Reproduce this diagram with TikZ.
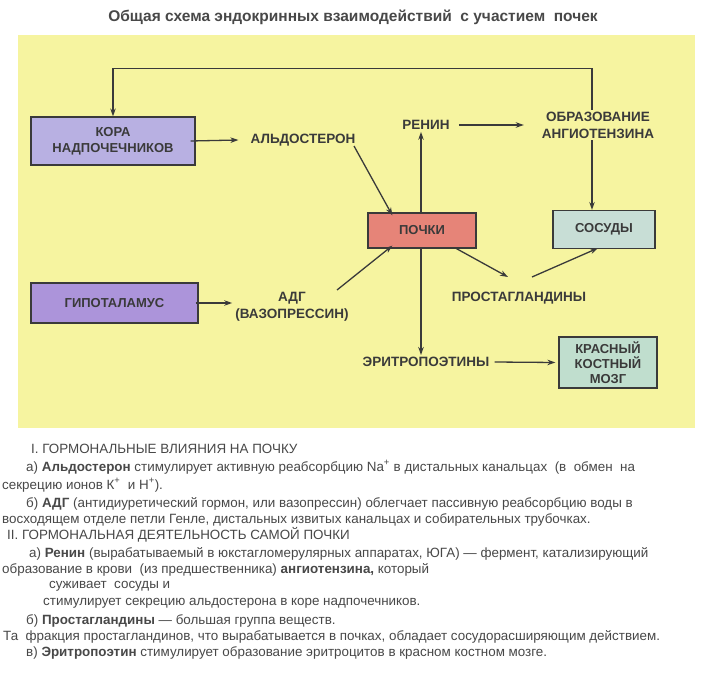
\documentclass[tikz,border=0pt]{standalone}
\usepackage{fontspec}
\setmainfont{Liberation Sans}
\usetikzlibrary{arrows.meta}
\definecolor{bgyellow}{RGB}{246,244,160}
\definecolor{kora}{RGB}{184,176,226}
\definecolor{gipo}{RGB}{172,148,218}
\definecolor{pochki}{RGB}{230,132,120}
\definecolor{sosudy}{RGB}{200,222,214}
\definecolor{mozg}{RGB}{192,222,206}
\definecolor{ink}{RGB}{58,58,58}
\definecolor{bodyink}{RGB}{72,72,72}
\tikzset{
  box/.style={draw=ink, line width=1.2pt, text=ink, font=\fontsize{13}{16}\selectfont\bfseries, align=center, inner sep=0pt},
  lbl/.style={text=ink, font=\fontsize{13.5}{17}\selectfont\bfseries, align=center, inner sep=2pt},
  arr/.style={draw=ink, line width=1.3pt, -{Stealth[length=8pt,width=5.5pt]}},
  txt/.style={anchor=base west, inner sep=0pt, text=bodyink, font=\fontsize{13.4}{16}\selectfont},
}
\begin{document}
\begin{tikzpicture}[x=1pt,y=-1pt]
\useasboundingbox (0,0) rectangle (705,674);
\fill[white] (0,0) rectangle (705,674);
\fill[bgyellow] (18,35) rectangle (695,428);
\node[text=bodyink, font=\fontsize{15.5}{18}\selectfont\bfseries] (title) at (353,17) {Общая схема эндокринных взаимодействий\ \ с участием\ \ почек};
% boxes
\node[box, fill=kora, minimum width=164pt, minimum height=48pt] (kora) at (113,141) {КОРА\\НАДПОЧЕЧНИКОВ};
\node[box, fill=gipo, minimum width=167pt, minimum height=40pt] (gipo) at (114.5,303) {ГИПОТАЛАМУС};
\node[box, fill=pochki, minimum width=108pt, minimum height=35pt] (pochki) at (422,230.5) {ПОЧКИ};
\node[box, fill=sosudy, minimum width=102pt, minimum height=38pt] (sosudy) at (604,229.5) {СОСУДЫ};
\node[box, fill=mozg, minimum width=98pt, minimum height=51pt, font=\fontsize{13}{15}\selectfont\bfseries] (mozg) at (608,362.5) {КРАСНЫЙ\\КОСТНЫЙ\\МОЗГ};
% labels
\node[lbl] (ald) at (303,140) {АЛЬДОСТЕРОН};
\node[lbl] (renin) at (426,125) {РЕНИН};
\node[lbl] (obr) at (598,125) {ОБРАЗОВАНИЕ\\АНГИОТЕНЗИНА};
\node[lbl] (adg) at (292,307) {АДГ\\(ВАЗОПРЕССИН)};
\node[lbl] (prost) at (519,298) {ПРОСТАГЛАНДИНЫ};
\node[lbl] (eritro) at (426,362) {ЭРИТРОПОЭТИНЫ};
% connectors
\draw[arr] ([xshift=-6pt]obr.north) -- ++(0,-41) -| (kora.north);
\draw[arr] ([xshift=-5pt]kora.east) -- ([xshift=-10pt]ald.west);
\draw[arr] ([shift={(51,6)}]ald.center) -- ([xshift=25pt,yshift=-3pt]pochki.north west);
\draw[arr] ([xshift=-1pt]pochki.north) -- ([xshift=-1pt]pochki.north |- renin.south);
\draw[arr] ([xshift=7pt]renin.east) -- ([xshift=-16pt]renin.east -| obr.west);
\draw[arr] ([xshift=-6pt]obr.south) -- ([xshift=-6pt]obr.south |- sosudy.north);
\draw[arr] ([xshift=-3pt]gipo.east) -- ([xshift=-1pt]gipo.east -| adg.west);
\draw[arr] ([shift={(45,-17)}]adg.center) -- ([xshift=25pt,yshift=3pt]pochki.south west);
\draw[arr] ([xshift=-22pt,yshift=1pt]pochki.south east) -- ([shift={(-11,-21)}]prost.center);
\draw[arr] ([shift={(13,-21)}]prost.center) -- ([xshift=-6pt,yshift=1pt]sosudy.south);
\draw[arr] ([xshift=-1pt]pochki.south) -- ([xshift=-1pt]pochki.south |- eritro.north);
\draw[arr] ([xshift=3pt]eritro.east) -- ([xshift=-3pt]mozg.west);
% text
\node[txt] (t1) at (31,453) {I. ГОРМОНАЛЬНЫЕ ВЛИЯНИЯ НА ПОЧКУ};
\node[txt] (t2) at (26,471) {а) \textbf{Альдостерон} стимулирует активную реабсорбцию Na\textsuperscript{+} в дистальных канальцах\ \ (в\ \ обмен\ \ на};
\node[txt] (t3) at (2,489) {секрецию ионов К\textsuperscript{+}\ \ и Н\textsuperscript{+}).};
\node[txt] (t4) at (26,507) {б) \textbf{АДГ} (антидиуретический гормон, или вазопрессин) облегчает пассивную реабсорбцию воды в};
\node[txt] (t5) at (2,523) {восходящем отделе петли Генле, дистальных извитых канальцах и собирательных трубочках.};
\node[txt] (t6) at (7,539) {II. ГОРМОНАЛЬНАЯ ДЕЯТЕЛЬНОСТЬ САМОЙ ПОЧКИ};
\node[txt] (t7) at (29,557) {а) \textbf{Ренин} (вырабатываемый в юкстагломерулярных аппаратах, ЮГА) — фермент, катализирующий};
\node[txt] (t8) at (2,573) {образование в крови\ \ (из предшественника) \textbf{ангиотензина,} который};
\node[txt] (t9) at (49,588) {суживает\ \ сосуды и};
\node[txt] (t10) at (43,605) {стимулирует секрецию альдостерона в коре надпочечников.};
\node[txt] (t11) at (26,624) {б) \textbf{Простагландины} — большая группа веществ.};
\node[txt] (t12) at (3,640) {Та\ \ фракция простагландинов, что вырабатывается в почках, обладает сосудорасширяющим действием.};
\node[txt] (t13) at (26,656) {в) \textbf{Эритропоэтин} стимулирует образование эритроцитов в красном костном мозге.};
\end{tikzpicture}
\end{document}
